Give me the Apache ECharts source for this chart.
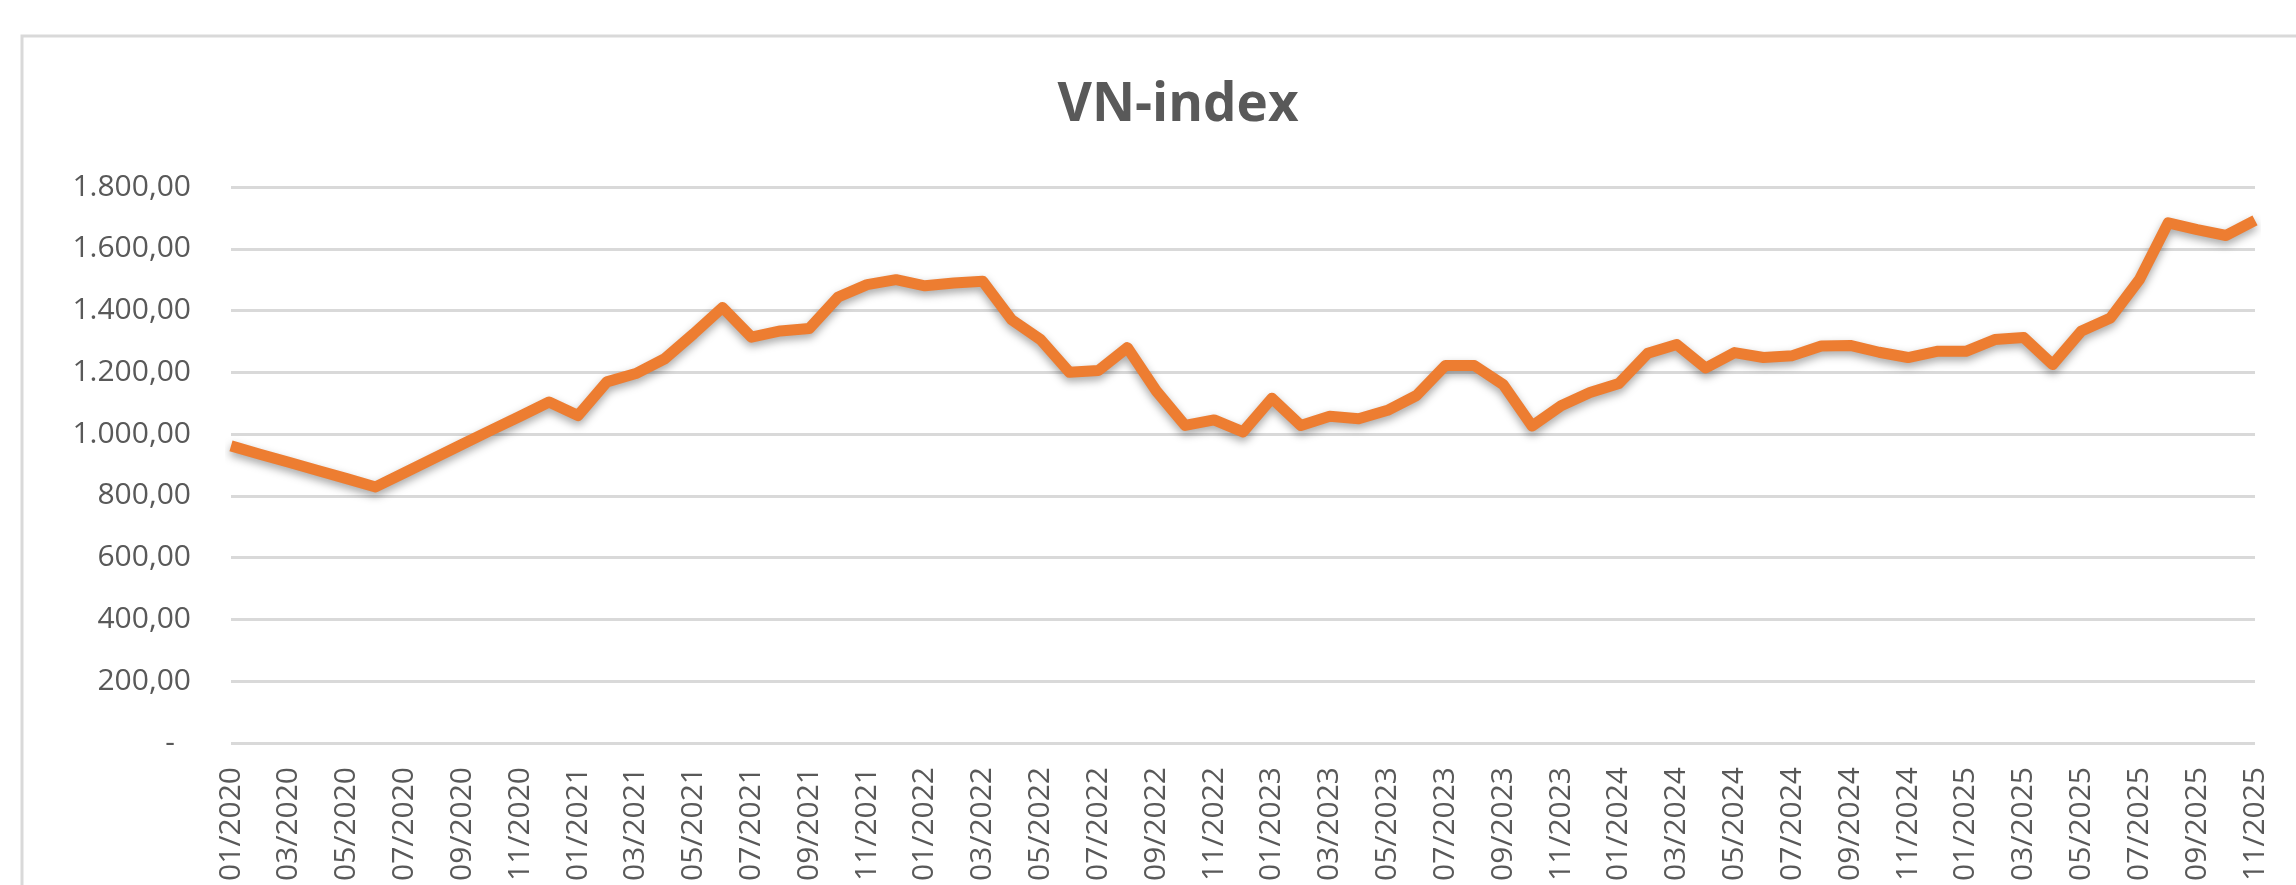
<!DOCTYPE html>
<html>
<head>
<meta charset="utf-8">
<title>VN-index</title>
<script src="https://cdn.jsdelivr.net/npm/echarts@6/dist/echarts.min.js"></script>
<style>
    html, body { margin: 0; padding: 0; background: #fff; }
    #main { width: 2296px; height: 885px; }
</style>
</head>
<body>
<div id="main"></div>
<script>
// Monthly VN-index values, 01/2020 .. 11/2025
var months = [
    "01/2020", "02/2020", "03/2020", "04/2020", "05/2020", "06/2020",
    "07/2020", "08/2020", "09/2020", "10/2020", "11/2020", "12/2020",
    "01/2021", "02/2021", "03/2021", "04/2021", "05/2021", "06/2021",
    "07/2021", "08/2021", "09/2021", "10/2021", "11/2021", "12/2021",
    "01/2022", "02/2022", "03/2022", "04/2022", "05/2022", "06/2022",
    "07/2022", "08/2022", "09/2022", "10/2022", "11/2022", "12/2022",
    "01/2023", "02/2023", "03/2023", "04/2023", "05/2023", "06/2023",
    "07/2023", "08/2023", "09/2023", "10/2023", "11/2023", "12/2023",
    "01/2024", "02/2024", "03/2024", "04/2024", "05/2024", "06/2024",
    "07/2024", "08/2024", "09/2024", "10/2024", "11/2024", "12/2024",
    "01/2025", "02/2025", "03/2025", "04/2025", "05/2025", "06/2025",
    "07/2025", "08/2025", "09/2025", "10/2025", "11/2025"
];

var vnIndex = [
    962, 935, 909, 882, 856, 829,
    875, 921, 967, 1013, 1058, 1104,
    1060, 1169, 1196, 1244, 1325, 1410,
    1314, 1334, 1342, 1444, 1484, 1500,
    1480, 1489, 1495, 1370, 1306, 1200,
    1206, 1280, 1140, 1028, 1046, 1007,
    1116, 1028, 1058, 1050, 1077, 1125,
    1222, 1222, 1160, 1026, 1092, 1135,
    1164, 1262, 1290, 1214, 1264, 1248,
    1254, 1285, 1287, 1265, 1248, 1268,
    1268, 1306, 1313, 1225, 1334, 1376,
    1500, 1684, 1662, 1643, 1692
];

var yTicks = { min: 0, max: 1800, step: 200 };

var textGray = "#595959";
var lineGray = "#D9D9D9";

function formatVN(v) {
    if (v === 0) return "{dash|-}";
    var s = String(Math.round(v)).replace(/\B(?=(\d{3})+(?!\d))/g, ".");
    return s + ",00";
}

var myChart = echarts.init(document.getElementById("main"));

var option = {
    backgroundColor: "#ffffff",
    animation: false,
    title: {
        text: "VN-index",
        left: 1173,
        top: 69,
        textAlign: "center",
        textStyle: {
            fontFamily: "Open Sans",
            fontWeight: "bold",
            fontSize: 53,
            lineHeight: 64,
            color: textGray
        }
    },
    graphic: [{
        type: "rect",
        silent: true,
        shape: { x: 22, y: 36, width: 2400, height: 1000 },
        style: { fill: null, stroke: lineGray, lineWidth: 3 }
    }],
    grid: { left: 231, right: 41, top: 187, bottom: 142 },
    xAxis: {
        type: "category",
        data: months,
        boundaryGap: false,
        axisLine: { show: false },
        axisTick: { show: false },
        axisLabel: {
            interval: 1,
            rotate: 90,
            margin: 24,
            fontFamily: "Open Sans",
            fontSize: 30,
            color: textGray
        }
    },
    yAxis: {
        type: "value",
        min: yTicks.min,
        max: yTicks.max,
        interval: yTicks.step,
        axisLine: { show: false },
        axisTick: { show: false },
        splitLine: { lineStyle: { color: lineGray, width: 3 } },
        axisLabel: {
            margin: 40,
            fontFamily: "Open Sans",
            fontSize: 30,
            color: textGray,
            formatter: formatVN,
            rich: {
                dash: { fontFamily: "Open Sans", fontSize: 30, color: textGray, padding: [0, 16, 0, 0] }
            }
        }
    },
    series: [{
        name: "VN-index",
        type: "line",
        data: vnIndex,
        symbol: "none",
        lineStyle: {
            color: "#ED7D31",
            width: 11,
            join: "round",
            shadowColor: "rgba(0, 0, 0, 0.35)",
            shadowBlur: 8,
            shadowOffsetY: 4
        }
    }]
};

myChart.setOption(option);
window.addEventListener("resize", function () { myChart.resize(); });
</script>
</body>
</html>
